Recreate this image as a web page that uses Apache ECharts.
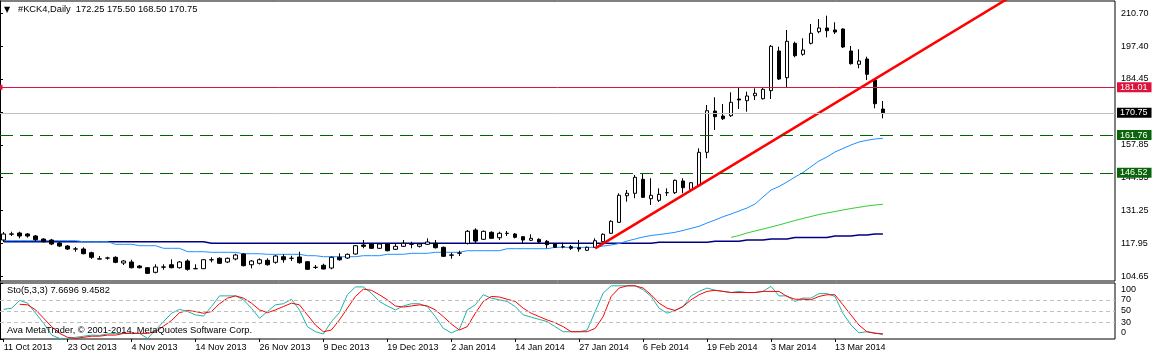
<!DOCTYPE html>
<html><head><meta charset="utf-8">
<script src="https://cdn.jsdelivr.net/npm/echarts@6/dist/echarts.min.js"></script>
<style>html,body{margin:0;padding:0;background:#fff}#c{width:1155px;height:357px}</style>
</head><body><div id="c"></div><script>
const symbolName = '#KCK4,Daily';
const dateLabels = ['11 Oct 2013','23 Oct 2013','4 Nov 2013','14 Nov 2013','26 Nov 2013','9 Dec 2013','19 Dec 2013','2 Jan 2014','14 Jan 2014','27 Jan 2014','6 Feb 2014','19 Feb 2014','3 Mar 2014','13 Mar 2014'];
const priceTicks = [104.65, 117.95, 131.25, 144.55, 157.85, 171.15, 184.45, 197.40, 210.70];
const stoLevels = [0, 30, 50, 70, 100];
const levels = [181.01, 170.75, 161.76, 146.52];

const opens = [119.45,121.9,122.27,121.87,121.06,119.85,119.45,118.24,117.03,115.85,115.82,114.33,111.85,112.2,112.47,110.17,110.58,108.96,108.28,106.42,108.6,109.49,108.28,110.98,107.9,107.88,111.5,112.07,110.58,111.79,113.8,109.49,110.05,111.26,110.46,112.71,112.1,112.59,110.7,108.45,109.25,108.16,112.47,112.19,113.8,117.43,117.83,116.1,117.83,115.7,116.9,117.75,116.9,117.71,118.12,116.5,113.4,114.2,118.12,123.48,119.73,122.55,120.37,122.15,121.87,120.78,119.33,119.73,118.92,117.83,116.75,116.75,116.34,115.3,116.5,118.76,122.15,126.58,137.3,138.28,143.92,136.1,135.45,138.55,138.52,143.24,139.89,141.34,154.81,171.46,169.44,169.56,176.3,175.62,177.62,176.42,179.65,195.65,184.89,198.75,194.32,198.75,203.43,204.93,204.12,204.52,195.65,190.29,192.43,183.96,172.25];
const highs = [122.67,122.79,122.8,122.27,121.46,120.13,119.9,118.6,117.4,116.62,116.5,114.73,112.99,112.71,112.9,111.38,111.5,109.37,108.56,109.65,109.65,111.67,110.98,111.67,109.65,111.79,112.47,112.47,112.39,113.92,114.08,111.38,112.07,112.07,113.4,113.68,113.12,114.73,110.98,109.37,109.89,112.8,114.08,114.0,117.43,119.45,118.1,118.1,118.04,118.1,119.45,118.76,118.24,120.13,119.45,116.83,114.33,115.13,123.48,124.16,123.28,122.95,122.79,123.08,122.27,121.06,121.75,120.13,119.45,118.24,118.36,117.43,119.45,116.83,120.13,122.15,127.39,138.28,139.6,145.66,146.34,144.33,140.29,140.29,143.84,144.33,142.83,156.42,173.88,177.0,174.28,179.0,181.0,179.24,180.6,180.73,198.07,197.38,204.12,199.4,200.77,206.54,208.55,209.9,207.22,204.8,197.67,196.34,193.36,184.24,175.50];
const lows = [118.64,121.06,120.13,120.4,119.04,118.52,117.4,116.6,115.4,114.73,113.68,111.79,111.67,111.5,110.1,109.37,108.0,107.96,105.74,106.02,107.47,108.04,107.96,107.07,107.8,107.75,110.46,109.77,110.17,111.26,108.8,108.04,109.57,109.09,109.89,110.3,110.98,109.89,107.35,107.75,107.63,107.63,111.1,111.79,113.6,116.1,115.82,115.82,114.89,115.42,116.62,116.1,116.4,117.43,116.02,112.59,111.9,113.0,117.63,118.24,119.45,119.85,119.45,121.06,120.13,117.83,119.04,118.12,116.1,116.22,116.1,115.42,114.73,115.0,116.22,118.52,121.87,126.3,134.9,136.26,136.38,133.56,134.77,137.19,137.99,138.28,139.6,140.94,152.39,163.8,167.83,169.04,172.27,171.18,175.9,176.1,176.3,183.96,181.02,193.12,193.76,198.27,202.79,201.17,202.5,196.86,190.2,188.68,183.96,172.55,168.50];
const closes = [121.87,121.8,121.06,121.06,119.57,118.76,117.83,117.03,115.82,115.8,113.92,112.47,111.75,112.15,110.46,110.98,108.28,108.28,106.0,108.56,108.5,108.28,110.58,107.63,107.85,111.5,111.45,110.05,112.07,113.4,109.09,110.98,111.5,109.49,112.99,111.5,112.05,110.3,107.63,108.4,107.75,112.47,111.5,113.68,117.15,116.9,116.1,117.83,115.13,116.9,118.12,117.7,117.83,118.64,116.34,112.87,113.35,114.15,122.95,119.04,122.95,120.13,122.15,122.1,120.54,119.45,120.13,118.64,117.55,116.5,116.7,116.1,115.82,116.5,119.17,121.75,126.99,137.47,138.28,144.73,136.66,137.47,137.87,138.5,143.52,140.54,142.55,154.81,171.58,169.16,168.36,174.97,175.9,177.51,178.6,180.2,197.55,184.35,199.56,193.76,196.06,202.79,204.93,203.84,203.31,197.27,190.53,191.62,186.26,174.4,170.75];

const maBlue = [119.17,119.17,119.17,119.17,119.17,119.17,119.17,119.17,119.17,119.17,118.76,118.76,118.76,118.76,117.71,117.71,117.71,117.15,117.15,117.15,116.1,116.1,116.1,114.73,114.73,114.73,114.49,114.49,114.49,114.49,113.92,113.92,113.92,113.68,113.68,113.68,113.68,113.68,113.12,113.12,112.71,112.71,112.71,112.71,112.71,113.12,113.12,113.12,113.68,113.68,113.68,114.08,114.08,114.08,114.49,114.49,114.49,114.49,115.13,115.13,115.13,115.13,115.13,115.94,115.94,115.94,115.94,115.94,115.94,116.5,116.5,116.5,116.5,116.5,116.5,117.0,117.43,118.04,119.04,119.85,120.66,121.26,121.66,122.07,122.55,123.28,124.16,124.97,126.3,127.51,128.84,129.93,131.14,132.35,133.96,136.79,139.6,141.02,142.83,144.85,146.66,149.0,151.3,152.91,154.93,156.34,157.75,158.96,159.65,160.17,160.45];
const maNavy = [118.76,118.76,118.76,118.76,118.76,118.76,118.76,118.76,118.76,118.76,118.76,118.76,118.76,118.76,118.76,118.76,118.76,118.76,118.76,118.76,118.76,118.76,118.76,118.76,118.76,118.76,118.12,118.12,118.12,118.12,118.12,118.12,118.12,118.12,118.12,118.12,118.12,118.12,118.12,118.12,118.12,118.12,118.12,118.12,118.12,118.12,118.12,118.12,118.12,118.12,118.12,118.12,118.12,118.12,118.12,118.12,118.12,118.12,118.12,118.12,118.12,118.12,118.12,118.12,118.12,118.12,118.12,118.12,118.12,118.12,118.12,118.12,118.12,118.12,118.12,118.12,118.12,118.12,118.12,118.12,118.12,118.12,118.52,118.52,118.52,118.52,118.52,118.52,118.52,118.92,118.92,118.92,118.92,119.45,119.45,119.45,119.85,119.85,119.85,120.46,120.46,120.46,120.46,120.46,121.06,121.06,121.06,121.46,121.46,121.87,121.87];
const greenStart = 91;
const maGreen = [120.54,121.26,122.27,123.08,123.88,124.69,125.5,126.42,127.31,128.12,128.92,129.73,130.33,130.94,131.54,132.15,132.63,133.16,133.56,133.84];
const trendPoints = [[74, 116.10], [127, 219.47]];

const stochK = [53,55,69,64,46,28,7,1,1,3,5,7,6.5,9,10,10,11,10,1,16,31,46,53,49,43,41,58,77,77,77,70,55,37,49,61,63,71,52,22,13,9,31,47,79,93,93,82,67,59,52,59,63,63,58,40,19,11,17,52,61,79,73,70,67,58,43,39,35,31,22,13,13,13,16,49,82,95,95,95,95,88,76,55,46,51,58,77,85,91,87,85,83,85,83,83,85,94,77,77,67,73,73,81,81,76,46,25,11,13,11,7.6696];
const stochD = [null,null,62,61,52,37,22,10,3,1,3,5,5,7,7,10,10,10,10,13,23,33,47,51,49,46,49,63,73,77,73,64,52,47,52,58,64,61,43,25,13,16,34,55,76,89,87,79,70,59,57,59,61,59,52,40,27,16,22,46,67,76,75,71,67,55,46,40,34,29,22,13,13,13,19,40,76,91,95,95,91,79,64,55,51,58,70,79,85,87,85,83,83,83,83,85,85,85,76,71,71,70,76,79,79,61,43,25,13,10,9.4582];

const nBars = opens.length;
const nSlots = 139;
const cats = [];
for (let i = 0; i < nSlots; i++) cats.push('b' + i);
const candleData = opens.map((o, i) => [o, closes[i], lows[i], highs[i]]);
const greenData = maGreen.map((v, k) => [greenStart + k, v]);
const fnt = 'Liberation Sans, Arial, sans-serif';
const last = nBars - 1;
const fmt = v => v.toFixed(2);
const tickInt = (idx) => idx % 8 === 0 && idx < nBars;

const levelStyles = [
  {line: {color: '#DC143C', type: 'solid', width: 1}, bg: '#DC143C'},
  {line: {color: '#C0C0C0', type: 'solid', width: 1}, bg: '#000000'},
  {line: {color: '#006400', type: [13, 7], width: 1}, bg: '#0B640B'},
  {line: {color: '#006400', type: [13, 7], width: 1}, bg: '#0B640B'}
];
const levelLines = levels.map((v, k) => {
  const item = {
    yAxis: v,
    lineStyle: levelStyles[k].line,
    label: {show: true, position: 'end', distance: 2, formatter: fmt(v), color: '#fff',
      backgroundColor: levelStyles[k].bg, padding: [1, 4, 0, 3], fontSize: 9, fontFamily: fnt}
  };
  if (k === 0) { item.symbol = ['emptyRect', 'emptyRect']; item.symbolSize = 5; }
  return item;
});
const stoLabelPos = stoLevels.map(v => Math.min(Math.max(v, 11), 88));

const mainTop = 1, mainH = 280, subTop = 283, subH = 56;
const yMin = 102.92, yMax = 215.81;

const chart = echarts.init(document.getElementById('c'), null, {renderer: 'canvas'});
chart.setOption({
  animation: false,
  backgroundColor: '#ffffff',
  title: [
    {text: '▼', left: 4, top: 6, padding: 0, textStyle: {fontSize: 8, fontWeight: 'normal', color: '#000', fontFamily: 'DejaVu Sans'}},
    {text: symbolName + '  ' + [opens[last], highs[last], lows[last], closes[last]].map(fmt).join(' '), left: 18, top: 5, padding: 0,
      textStyle: {fontSize: 9.3, fontWeight: 'normal', color: '#000', fontFamily: fnt}},
    {text: 'Sto(5,3,3) ' + stochK[last].toFixed(4) + ' ' + stochD[last].toFixed(4), left: 7, top: 286, padding: 0,
      textStyle: {fontSize: 9.3, fontWeight: 'normal', color: '#000', fontFamily: fnt}},
    {text: 'Ava MetaTrader, © 2001-2014, MetaQuotes Software Corp.', left: 7, top: 326, padding: 0,
      textStyle: {fontSize: 9.3, fontWeight: 'normal', color: '#000', fontFamily: fnt}}
  ],
  grid: [
    {left: -0.3, top: mainTop, width: 1111, height: mainH, show: false, outerBoundsMode: 'none'},
    {left: 0, top: mainTop, width: 1115, height: mainH, show: true, borderColor: '#000', borderWidth: 1, backgroundColor: 'transparent', outerBoundsMode: 'none'},
    {left: -0.3, top: subTop, width: 1111, height: subH, show: false, outerBoundsMode: 'none'},
    {left: 0, top: subTop, width: 1115, height: subH, show: true, borderColor: '#000', borderWidth: 1, backgroundColor: 'transparent', outerBoundsMode: 'none'}
  ],
  xAxis: [
    {type: 'category', gridIndex: 0, data: cats, boundaryGap: true, show: false},
    {type: 'value', gridIndex: 1, min: 0, max: 1, show: false},
    {type: 'category', gridIndex: 2, data: cats, boundaryGap: true,
      axisLine: {show: false},
      axisTick: {show: true, interval: tickInt, alignWithLabel: true, length: 3, lineStyle: {color: '#000'}},
      axisLabel: {show: true, interval: tickInt, align: 'left', margin: 4, fontSize: 9, color: '#000', fontFamily: fnt,
        formatter: (val, idx) => dateLabels[Math.round(idx / 8)] || ''},
      splitLine: {show: false}},
    {type: 'value', gridIndex: 3, min: 0, max: 1, show: false}
  ],
  yAxis: [
    {type: 'value', gridIndex: 0, min: yMin, max: yMax, show: false},
    {type: 'value', gridIndex: 1, min: yMin, max: yMax, position: 'right',
      axisLine: {show: true, lineStyle: {color: '#000'}},
      axisTick: {show: true, length: 3, customValues: priceTicks, lineStyle: {color: '#000'}},
      axisLabel: {show: true, customValues: priceTicks, formatter: fmt, margin: 6, fontSize: 9, color: '#000', fontFamily: fnt},
      splitLine: {show: false}},
    {type: 'value', gridIndex: 2, min: 0, max: 100, show: false},
    {type: 'value', gridIndex: 3, min: 0, max: 100, position: 'right',
      axisLine: {show: true, lineStyle: {color: '#000'}},
      axisTick: {show: true, length: 3, customValues: stoLevels, lineStyle: {color: '#000'}},
      axisLabel: {show: true, customValues: stoLabelPos, margin: 6, fontSize: 9, color: '#000', fontFamily: fnt,
        formatter: v => { const k = stoLabelPos.indexOf(v); return k >= 0 ? String(stoLevels[k]) : ''; }},
      splitLine: {show: false}}
  ],
  series: [
    {type: 'line', xAxisIndex: 0, yAxisIndex: 0, data: maNavy, symbol: 'none', lineStyle: {color: '#000080', width: 1.5}, silent: true, z: 1},
    {type: 'line', xAxisIndex: 0, yAxisIndex: 0, data: maBlue, symbol: 'none', lineStyle: {color: '#1E90FF', width: 1}, silent: true, z: 1},
    {type: 'line', xAxisIndex: 0, yAxisIndex: 0, data: greenData, symbol: 'none', lineStyle: {color: '#32CD32', width: 1}, silent: true, z: 1},
    {type: 'candlestick', xAxisIndex: 0, yAxisIndex: 0, data: candleData, barWidth: 4, silent: true, z: 3,
      itemStyle: {color: '#ffffff', color0: '#000000', borderColor: '#000000', borderColor0: '#000000', borderColorDoji: '#000000', borderWidth: 1}},
    {type: 'line', xAxisIndex: 0, yAxisIndex: 0, data: trendPoints, symbol: 'none', lineStyle: {color: '#FF0000', width: 2.5}, silent: true, z: 4},
    {type: 'line', xAxisIndex: 1, yAxisIndex: 1, data: [], silent: true, z: 2,
      markLine: {silent: true, animation: false, symbol: ['none', 'none'], data: levelLines}},
    {type: 'line', xAxisIndex: 3, yAxisIndex: 3, data: [], silent: true,
      markLine: {silent: true, animation: false, symbol: ['none', 'none'], label: {show: false},
        lineStyle: {color: '#C0C0C0', type: [4, 3], width: 1},
        data: stoLevels.filter(v => v > 0 && v < 100).map(v => ({yAxis: v}))}},
    {type: 'line', xAxisIndex: 2, yAxisIndex: 2, data: stochK, symbol: 'none', lineStyle: {color: '#20B2AA', width: 1}, silent: true},
    {type: 'line', xAxisIndex: 2, yAxisIndex: 2, data: stochD, symbol: 'none', lineStyle: {color: '#FF0000', width: 1}, silent: true}
  ]
});
</script></body></html>
